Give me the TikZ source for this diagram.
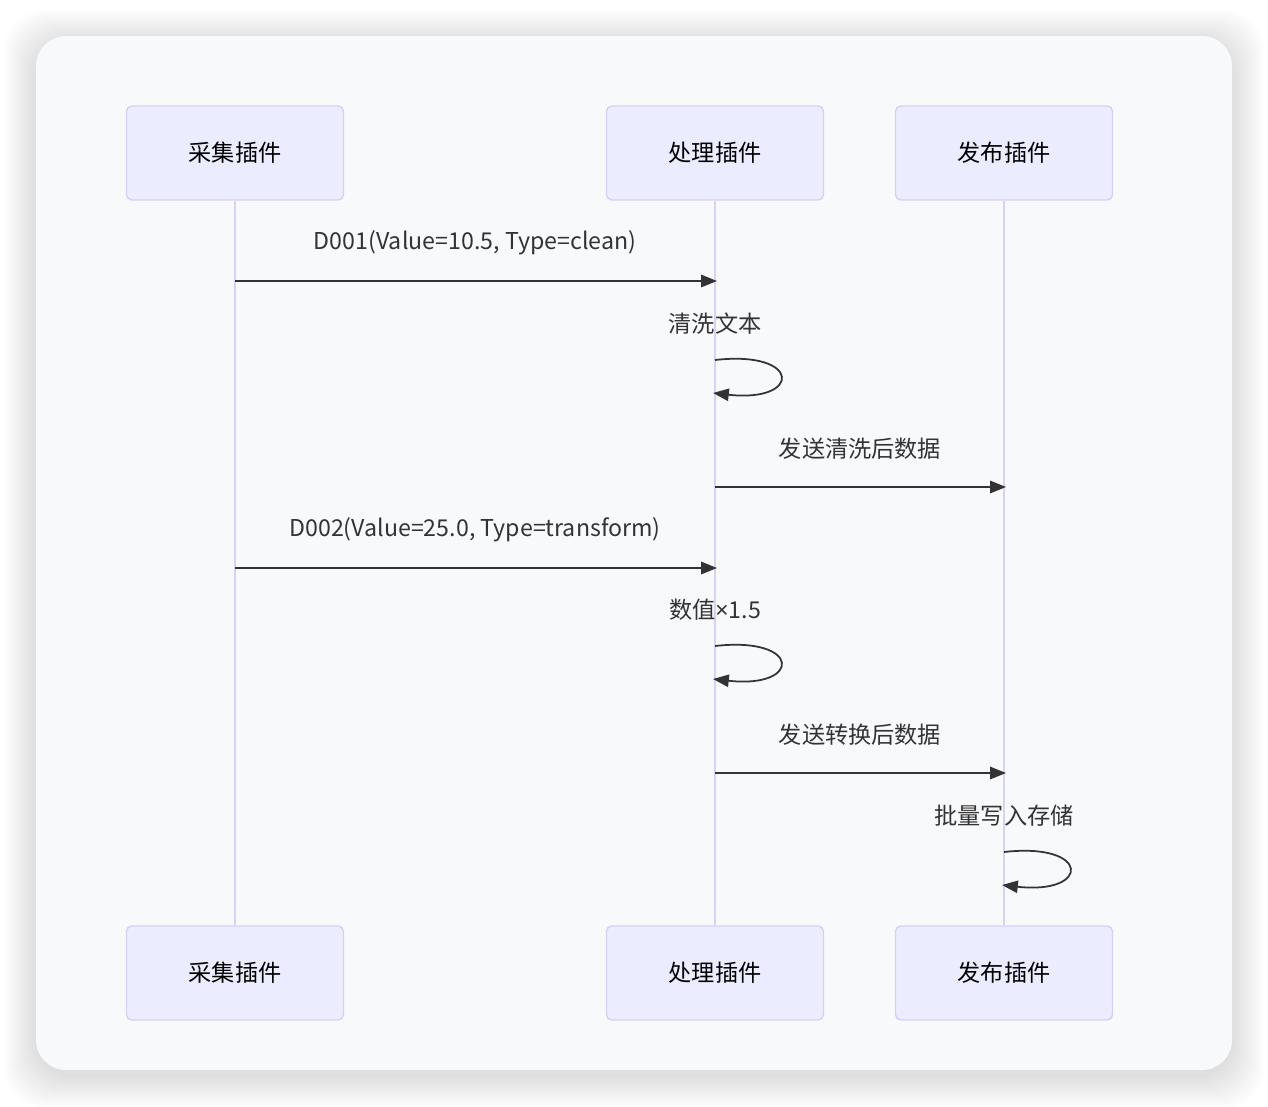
\documentclass[tikz,border=0pt]{standalone}
\usepackage{fontspec}
\setmainfont{Noto Sans CJK SC}
\newfontfamily\latinfont{Noto Sans}
\usetikzlibrary{arrows.meta,positioning}
\definecolor{cardbg}{HTML}{F8F9FB}
\definecolor{actorfill}{HTML}{ECECFF}
\definecolor{actorline}{HTML}{D6D0F5}
\definecolor{lifecol}{HTML}{D9D1F3}
\definecolor{inkcol}{HTML}{333333}
\tikzset{
  actor/.style={draw=actorline, fill=actorfill, line width=0.8pt, rounded corners=3pt, minimum width=4.34cm, minimum height=1.88cm, text=black, font=\fontsize{13.2}{15}\selectfont},
  lifeline/.style={draw=lifecol, line width=1.1pt},
  msg/.style={draw=inkcol, line width=1pt, -{Triangle[length=9pt,width=7pt]}},
  msglabel/.style={text=inkcol, font=\fontsize{13.2}{15}\selectfont}
}

\begin{document}
\begin{tikzpicture}[x=0.02cm, y=-0.02cm]
  \fill[white] (0,0) rectangle (1268,1106);
  \useasboundingbox (0,0) rectangle (1268,1106);
  \foreach \i in {1,...,16}
    \fill[black, opacity=0.008, rounded corners=0.8cm] (36-2*\i, 42-2*\i) rectangle (1232+2*\i, 1076+2*\i);
  \fill[cardbg, rounded corners=0.6cm] (36,36) rectangle (1232,1070);

  \node[actor] (colTop) at (235,153) {采集插件};
  \node[actor] (procTop) at (715,153) {处理插件};
  \node[actor] (pubTop) at (1004,153) {发布插件};
  \node[actor] (colBot) at (235,973) {采集插件};
  \node[actor] (procBot) at (715,973) {处理插件};
  \node[actor] (pubBot) at (1004,973) {发布插件};

  \draw[lifeline] (colTop) -- (colBot);
  \draw[lifeline] (procTop) -- (procBot);
  \draw[lifeline] (pubTop) -- (pubBot);

  \coordinate (m1a) at (235,281);  \coordinate (m1b) at (717,281);
  \coordinate (s1a) at (715,360);  \coordinate (s1b) at (713,393);
  \coordinate (m2a) at (715,487);  \coordinate (m2b) at (1006,487);
  \coordinate (m3a) at (235,568);  \coordinate (m3b) at (717,568);
  \coordinate (s2a) at (715,646);  \coordinate (s2b) at (713,679);
  \coordinate (m4a) at (715,773);  \coordinate (m4b) at (1006,773);
  \coordinate (s3a) at (1004,852); \coordinate (s3b) at (1002,885);

  \node[msglabel] (m1lab) at (475,243) {D001(Value=10.5, Type=clean)};
  \draw[msg] (m1a) -- (m1b);
  \node[msglabel] (s1lab) at (715,324) {清洗文本};
  \draw[msg] (s1a) .. controls (802,350) and (802,403) .. (s1b);
  \node[msglabel] (m2lab) at (860,449) {发送清洗后数据};
  \draw[msg] (m2a) -- (m2b);
  \node[msglabel] (m3lab) at (475,530) {D002(Value=25.0, Type=transform)};
  \draw[msg] (m3a) -- (m3b);
  \node[msglabel] (s2lab) at (715,610) {数值{\latinfont ×}1.5};
  \draw[msg] (s2a) .. controls (802,636) and (802,689) .. (s2b);
  \node[msglabel] (m4lab) at (860,735) {发送转换后数据};
  \draw[msg] (m4a) -- (m4b);
  \node[msglabel] (s3lab) at (1004,816) {批量写入存储};
  \draw[msg] (s3a) .. controls (1091,842) and (1091,895) .. (s3b);
\end{tikzpicture}
\end{document}
